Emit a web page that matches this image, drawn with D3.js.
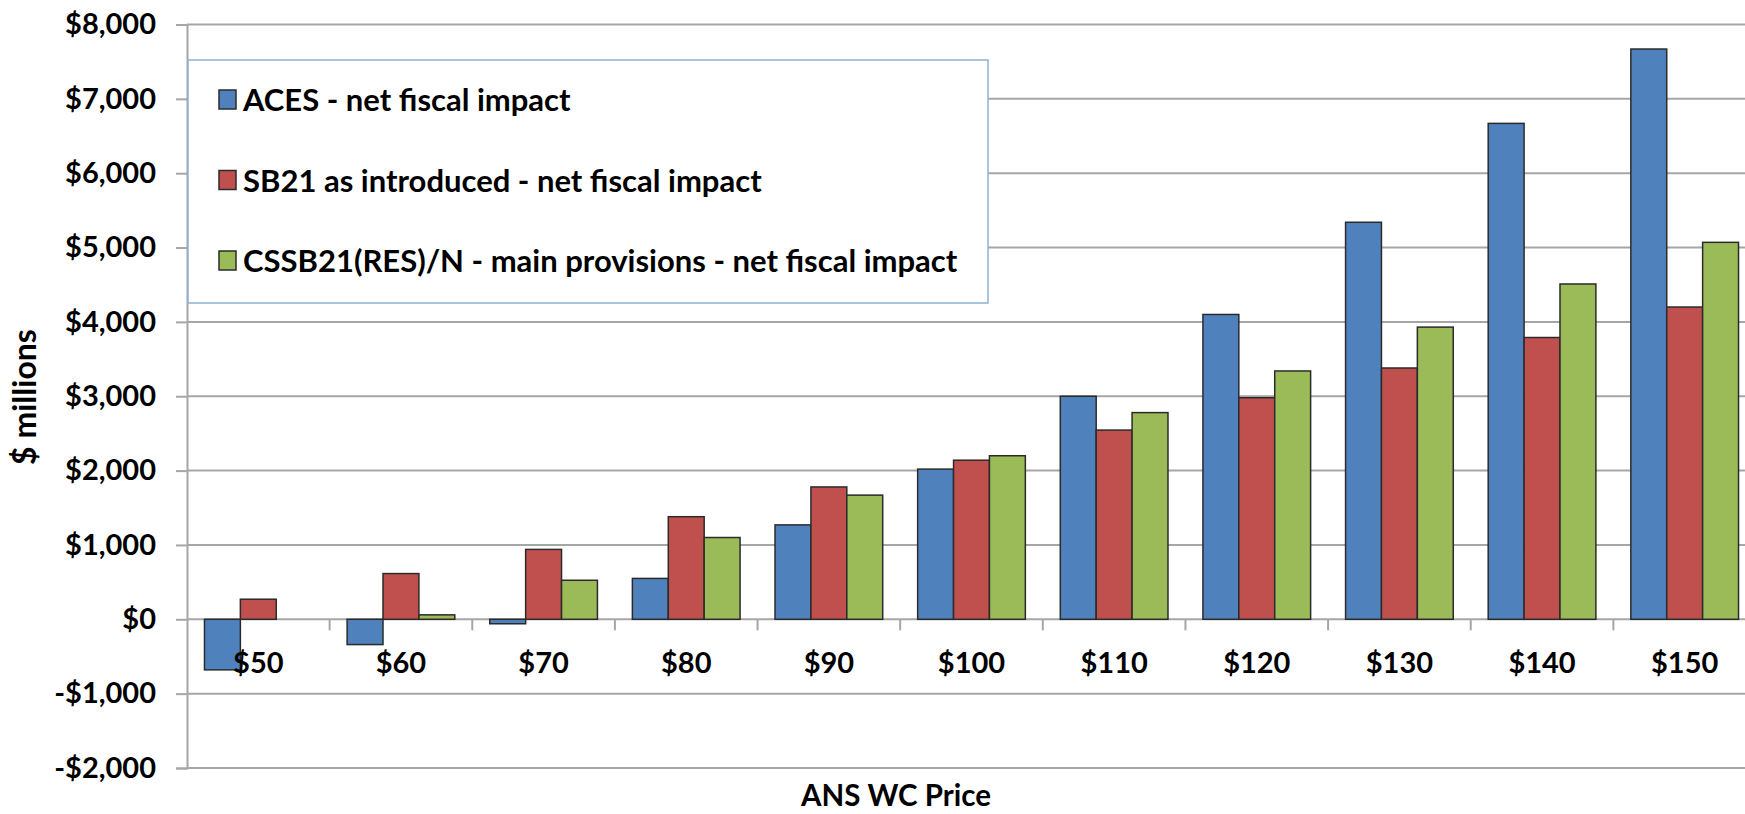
<!DOCTYPE html>
<html>
<head>
<meta charset="utf-8">
<script src="https://cdn.jsdelivr.net/npm/d3@7"></script>
<style>
  body { margin: 0; background: #fff; }
  svg { display: block; }
</style>
</head>
<body>
<div id="chart"></div>
<script>
// data ($ millions)
var prices = ["$50", "$60", "$70", "$80", "$90", "$100", "$110", "$120", "$130", "$140", "$150"];
var seriesNames = ["ACES - net fiscal impact",
                   "SB21 as introduced - net fiscal impact",
                   "CSSB21(RES)/N - main provisions - net fiscal impact"];
var aces   = [-680, -340, -60, 550, 1270, 2020, 3000, 4100, 5340, 6670, 7670];
var sb21   = [270, 615, 940, 1380, 1780, 2140, 2545, 2980, 3380, 3790, 4200];
var cssb21 = [0, 60, 525, 1100, 1670, 2200, 2780, 3340, 3930, 4510, 5070];
var yTicks = [-2000, -1000, 0, 1000, 2000, 3000, 4000, 5000, 6000, 7000, 8000];

var colors = ["#4f81bd", "#c0504d", "#9bbb59"];

var svgWidth = 1745;
var svgHeight = 814;
var plotLeft = 187, plotRight = 1756, plotTop = 24.5, plotBottom = 768;

var svg = d3.select("#chart")
    .append("svg")
    .attr("width", svgWidth)
    .attr("height", svgHeight);

var fmt = d3.formatLocale({decimal: ".", thousands: ",", grouping: [3], currency: ["$", ""], minus: "-"}).format("$,");

var y = d3.scaleLinear().domain([-2000, 8000]).range([plotBottom, plotTop]);
var x = d3.scaleBand().domain(prices).range([plotLeft, plotRight]).padding(0);
var gap = x.bandwidth() * 0.245;
var xs = d3.scaleBand().domain(d3.range(3)).range([gap / 2, x.bandwidth() - gap / 2]).padding(0);

var table = prices.map(function (p, i) {
    return {price: p, values: [aces[i], sb21[i], cssb21[i]]};
});

// gridlines
svg.append("g")
    .selectAll("line")
    .data(yTicks)
    .enter()
    .append("line")
    .attr("x1", plotLeft)
    .attr("x2", svgWidth)
    .attr("y1", function (d) { return y(d); })
    .attr("y2", function (d) { return y(d); })
    .attr("stroke", "#a6a6a6")
    .attr("stroke-width", 2);

// y axis
var yAxis = svg.append("g")
    .attr("transform", "translate(" + plotLeft + ",0)")
    .call(d3.axisLeft(y).tickValues(yTicks).tickFormat(fmt).tickSize(11).tickPadding(20));
yAxis.select(".domain").attr("stroke", "#a6a6a6").attr("stroke-width", 2);
yAxis.selectAll(".tick line").attr("stroke", "#a6a6a6").attr("stroke-width", 2);
yAxis.selectAll("text")
    .attr("font-family", "Lato")
    .attr("font-weight", "bold")
    .attr("font-size", 29)
    .attr("fill", "#000");

// bars
var groups = svg.append("g")
    .selectAll("g")
    .data(table)
    .enter()
    .append("g")
    .attr("transform", function (d) { return "translate(" + x(d.price) + ",0)"; });

groups.selectAll("rect")
    .data(function (d) { return d.values; })
    .enter()
    .append("rect")
    .attr("x", function (d, i) { return xs(i); })
    .attr("width", xs.bandwidth())
    .attr("y", function (d) { return y(Math.max(0, d)); })
    .attr("height", function (d) { return Math.abs(y(d) - y(0)); })
    .attr("fill", function (d, i) { return colors[i]; })
    .attr("stroke", function (d) { return d === 0 ? "none" : "#2b2b2b"; })
    .attr("stroke-width", 1.5);

// category boundary ticks on the zero line
svg.append("g")
    .selectAll("line")
    .data(prices.slice(1))
    .enter()
    .append("line")
    .attr("x1", function (d) { return x(d); })
    .attr("x2", function (d) { return x(d); })
    .attr("y1", y(0))
    .attr("y2", y(0) + 11)
    .attr("stroke", "#a6a6a6")
    .attr("stroke-width", 2);

// x labels
var xAxis = svg.append("g")
    .attr("transform", "translate(0," + y(0) + ")")
    .call(d3.axisBottom(x).tickSize(0).tickPadding(33));
xAxis.select(".domain").remove();
xAxis.selectAll("text")
    .attr("font-family", "Lato")
    .attr("font-weight", "bold")
    .attr("font-size", 29)
    .attr("fill", "#000");

// axis titles
svg.append("text")
    .attr("transform", "translate(36,397) rotate(-90)")
    .attr("text-anchor", "middle")
    .attr("font-family", "Lato")
    .attr("font-weight", "bold")
    .attr("font-size", 32)
    .text("$ millions");

svg.append("text")
    .attr("x", 896)
    .attr("y", 806)
    .attr("text-anchor", "middle")
    .attr("font-family", "Lato")
    .attr("font-weight", "bold")
    .attr("font-size", 29.5)
    .text("ANS WC Price");

// legend
var legend = svg.append("g");
legend.append("rect")
    .attr("x", 188)
    .attr("y", 60)
    .attr("width", 800)
    .attr("height", 243)
    .attr("fill", "#fff")
    .attr("stroke", "#8eb0d8")
    .attr("stroke-width", 1.5);

var rows = legend.selectAll("g.row")
    .data(seriesNames)
    .enter()
    .append("g")
    .attr("class", "row")
    .attr("transform", function (d, i) { return "translate(219," + (100 + i * 80.5) + ")"; });

rows.append("rect")
    .attr("x", 0)
    .attr("y", -10)
    .attr("width", 17)
    .attr("height", 19)
    .attr("fill", function (d, i) { return colors[i]; })
    .attr("stroke", "#2b2b2b")
    .attr("stroke-width", 1.5);

rows.append("text")
    .attr("x", 24)
    .attr("y", 11)
    .attr("font-family", "Lato")
    .attr("font-weight", "bold")
    .attr("font-size", 31)
    .text(function (d) { return d; });
</script>
</body>
</html>
